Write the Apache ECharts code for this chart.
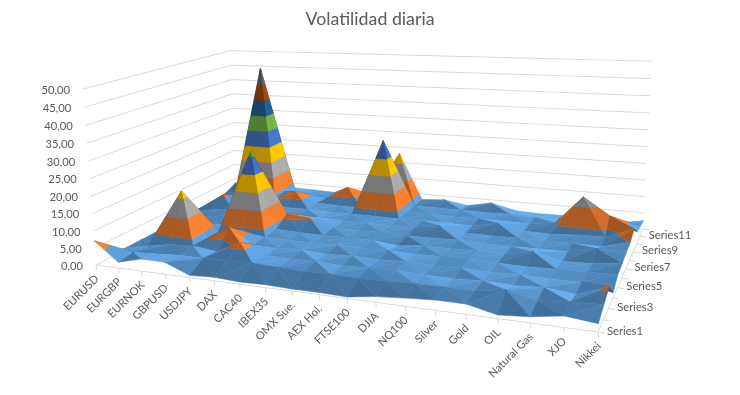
<!DOCTYPE html>
<html>
<head>
<meta charset="utf-8">
<style>html,body{margin:0;background:#fff}#chart{width:740px;height:395px}</style>
<script src="https://cdn.jsdelivr.net/npm/echarts@6/dist/echarts.min.js"></script>
</head>
<body>
<div id="chart"></div>
<script>
const categories = ['EURUSD','EURGBP','EURNOK','GBPUSD','USDJPY','DAX','CAC40','IBEX35','OMX Sue.','AEX Hol.','FTSE100','DJIA','NQ100','Silver','Gold','OIL','Natural Gas','XJO','Nikkei'];
const seriesNames = ['Series1','Series2','Series3','Series4','Series5','Series6','Series7','Series8','Series9','Series10','Series11','Series12'];
const valueTicks = [0,5,10,15,20,25,30,35,40,45,50];
const bandColors = ['#5B9BD5','#ED7D31','#A5A5A5','#FFC000','#4472C4','#70AD47','#255E91','#9E480E','#636363','#997300'];

const s1  = [7.1,1.7,3.5,3.4,0.6,1.0,0.6,0.8,0.6,0.6,0.4,1.5,2.1,2.6,2.6,0.9,1.5,2.8,2.0];
const s2  = [1.5,2.2,2.6,3.0,3.0,3.3,3.4,3.1,2.8,3.0,2.7,3.0,3.2,3.3,3.2,4.5,2.8,3.4,3.8];
const s3  = [0.5,1.8,3.0,3.4,2.6,6.0,3.2,3.0,3.2,2.8,3.1,3.2,3.0,2.9,3.3,3.0,3.4,2.6,5.5];
const s4  = [0.5,2.0,17.0,3.0,7.5,3.0,3.0,3.2,2.8,3.1,2.9,3.3,3.0,3.2,3.0,3.2,3.0,3.1,1.4];
const s5  = [0.5,2.4,3.0,3.3,3.0,3.1,2.9,3.0,3.1,3.0,3.2,2.9,3.1,3.3,3.0,2.9,3.1,3.2,3.5];
const s6  = [0.6,2.2,2.8,3.0,26.5,3.3,3.0,2.9,3.1,3.0,2.2,3.1,3.0,3.2,3.1,4.6,2.8,3.1,4.0];
const s7  = [0.7,2.4,3.0,3.3,3.8,6.0,5.3,3.1,3.0,3.2,3.0,3.0,3.2,3.0,2.9,3.1,3.0,4.8,4.5];
const s8  = [0.7,2.6,3.1,3.4,3.3,3.1,3.3,3.0,3.1,3.0,3.2,4.5,3.1,3.0,3.1,3.0,3.2,3.0,5.0];
const s9  = [0.6,5.4,3.3,4.0,3.2,3.3,3.0,3.1,3.1,3.0,3.1,3.2,3.0,4.6,3.0,2.8,3.3,3.5,6.6];
const s10 = [0.8,2.5,4.0,3.6,6.5,3.3,3.1,3.0,25.3,3.0,3.1,3.0,3.2,3.0,3.0,4.0,12.5,7.5,3.5];
const s11 = [1.5,3.0,45.4,4.0,3.3,3.0,7.2,3.0,3.3,3.1,3.0,3.1,3.0,3.1,2.9,2.7,3.1,2.7,3.0];
const s12 = [3.4,3.4,3.6,3.4,3.2,3.0,3.0,3.0,18.0,3.2,3.7,2.5,4.0,2.2,1.9,2.0,2.2,1.2,2.5];
const values = [s1,s2,s3,s4,s5,s6,s7,s8,s9,s10,s11,s12];

// box corners, everything else goes through project()
const FL = [96,265], FR = [598,332], BR = [643,229], BL = [236,192], TOP_L = [83,89], TOP_R = [652,69];
const den = (FR[0]-BR[0])*(BL[1]-BR[1]) - (BL[0]-BR[0])*(FR[1]-BR[1]);
const sx = FL[0]-FR[0]+BR[0]-BL[0], sy = FL[1]-FR[1]+BR[1]-BL[1];
const g = (sx*(BL[1]-BR[1]) - (BL[0]-BR[0])*sy)/den;
const h = ((FR[0]-BR[0])*sy - sx*(FR[1]-BR[1]))/den;
const a = FR[0]-FL[0]+g*FR[0], b = BL[0]-FL[0]+h*BL[0], c = FL[0];
const d = FR[1]-FL[1]+g*FR[1], e = BL[1]-FL[1]+h*BL[1], f = FL[1];
const w1 = g+h+1;
const c2 = (TOP_R[0]*w1-(a+b+c)-TOP_L[0]+c)/(TOP_L[0]-TOP_R[0]);
const c0 = TOP_L[0]*(1+c2)-c, c1 = TOP_L[1]*(1+c2)-f;

function project(u, v, z) {
  const t = z/50, w = g*u+h*v+1+c2*t;
  return [(a*u+b*v+c+c0*t)/w, (d*u+e*v+f+c1*t)/w];
}
function depth(u, v) { return g*u+h*v+1; }

const nCol = categories.length, nRow = seriesNames.length;
const U = i => i/(nCol-1), V = j => j/(nRow-1);

function clip(poly, level, keepAbove) {
  const out = [];
  for (let i=0;i<poly.length;i++) {
    const p = poly[i], q = poly[(i+1)%poly.length];
    const pin = keepAbove ? p[2]>=level : p[2]<=level;
    const qin = keepAbove ? q[2]>=level : q[2]<=level;
    if (pin) out.push(p);
    if (pin!==qin) {
      const k = (level-p[2])/(q[2]-p[2]);
      out.push([p[0]+(q[0]-p[0])*k, p[1]+(q[1]-p[1])*k, level]);
    }
  }
  return out;
}
function shadeColor(hex, k) {
  const n = parseInt(hex.slice(1),16);
  const ch = [n>>16,(n>>8)&255,n&255].map(x => Math.max(0,Math.min(255,Math.round(x*k))));
  return 'rgb('+ch.join(',')+')';
}
function facetShade(A,B,C) {
  const W=18,D=10,H=60;
  const p=[(B[0]-A[0])*W,(B[1]-A[1])*D,(B[2]-A[2])/50*H];
  const q=[(C[0]-A[0])*W,(C[1]-A[1])*D,(C[2]-A[2])/50*H];
  let n=[p[1]*q[2]-p[2]*q[1],p[2]*q[0]-p[0]*q[2],p[0]*q[1]-p[1]*q[0]];
  const len=Math.hypot(n[0],n[1],n[2])||1;
  n=n.map(x=>x/len);
  if (n[2]<0) n=n.map(x=>-x);
  const pa=project(...A),pb=project(...B),pc=project(...C);
  const area=(pb[0]-pa[0])*(pc[1]-pa[1])-(pc[0]-pa[0])*(pb[1]-pa[1]);
  const fa=project(A[0],A[1],0),fb=project(B[0],B[1],0),fc=project(C[0],C[1],0);
  const farea=(fb[0]-fa[0])*(fc[1]-fa[1])-(fc[0]-fa[0])*(fb[1]-fa[1]);
  let k=0.92+0.03*n[2]+0.13*n[0]+0.2*n[1];
  if (area*farea<0) k*=0.5;
  return k;
}

// each cell is cut along the diagonal with the higher ends
const facets = [];
for (let j=0;j<nRow-1;j++) for (let i=0;i<nCol-1;i++) {
  const p00=[U(i),V(j),values[j][i]], p10=[U(i+1),V(j),values[j][i+1]];
  const p11=[U(i+1),V(j+1),values[j+1][i+1]], p01=[U(i),V(j+1),values[j+1][i]];
  const tris = p00[2]+p11[2] >= p10[2]+p01[2] ? [[p00,p10,p11],[p00,p11,p01]] : [[p10,p11,p01],[p10,p01,p00]];
  tris.forEach(([A,B,C]) => {
    const k=facetShade(A,B,C);
    const dz=depth((A[0]+B[0]+C[0])/3,(A[1]+B[1]+C[1])/3);
    bandColors.forEach((col,bi) => {
      let poly=clip([A,B,C],bi*5,true);
      if (poly.length) poly=clip(poly,(bi+1)*5,false);
      if (poly.length>=3) facets.push({dz,fill:shadeColor(col,k),pts:poly.map(p=>project(p[0],p[1],p[2]))});
    });
  });
}
facets.sort((x,y)=>y.dz-x.dz);

const lines = [];
valueTicks.forEach(z => {
  lines.push({pts:[project(0,0,z),project(0,1,z),project(1,1,z)],color:'#D9D9D9'});
});
lines.push({pts:[project(0,0,0),project(1,0,0)],color:'#D9D9D9'});
lines.push({pts:[project(1,0,0),project(1,1,0)],color:'#D9D9D9'});
categories.forEach((n,i)=>{ const p=project(U(i),0,0); lines.push({pts:[p,[p[0]+0.6,p[1]+5]],color:'#D9D9D9'}); });
seriesNames.forEach((n,j)=>{ const p=project(1,V(j),0); lines.push({pts:[p,[p[0]+7,p[1]+1]],color:'#D9D9D9'}); });

const font='11.2px Lato', tc='#595959';
const labels = [];
valueTicks.forEach(z => { const p=project(0,0,z);
  labels.push({x:p[0]-13,y:p[1]+1,text:z.toFixed(2).replace('.',','),align:'right',rot:0}); });
categories.forEach((n,i)=>{ const p=project(U(i),0,0);
  labels.push({x:p[0]+1,y:p[1]+12,text:n,align:'right',rot:Math.PI/4}); });
seriesNames.forEach((n,j)=>{ if (j%2) return; const p=project(1,V(j),0);
  labels.push({x:p[0]+9,y:p[1]-1,text:n,align:'left',rot:0}); });

const chart = echarts.init(document.getElementById('chart'));
chart.setOption({
  animation:false,
  title:{text:'Volatilidad diaria',left:'center',top:5,textStyle:{fontFamily:'Lato',fontSize:17.8,fontWeight:'normal',color:tc}},
  grid:{left:0,right:0,top:0,bottom:0},
  xAxis:{type:'value',min:0,max:740,show:false},
  yAxis:{type:'value',min:0,max:395,inverse:true,show:false},
  series:[
    {type:'custom',silent:true,clip:false,data:lines.map(l=>l.pts[0]),renderItem:(p,api)=>{
      const l=lines[p.dataIndex];
      return {type:'polyline',shape:{points:l.pts.map(q=>api.coord(q))},style:{stroke:l.color,lineWidth:1,fill:null}};
    }},
    {type:'custom',silent:true,clip:false,progressive:0,data:facets.map(x=>x.pts[0]),renderItem:(p,api)=>{
      const x=facets[p.dataIndex];
      return {type:'polygon',shape:{points:x.pts.map(q=>api.coord(q))},style:{fill:x.fill,stroke:x.fill,lineWidth:0.5}};
    }},
    {type:'custom',silent:true,clip:false,data:labels.map(l=>[l.x,l.y]),renderItem:(p,api)=>{
      const l=labels[p.dataIndex], q=api.coord([l.x,l.y]);
      return {type:'text',x:q[0],y:q[1],rotation:l.rot,style:{text:l.text,font,fill:tc,align:l.align,verticalAlign:'middle'}};
    }}
  ]
});
</script>
</body>
</html>
